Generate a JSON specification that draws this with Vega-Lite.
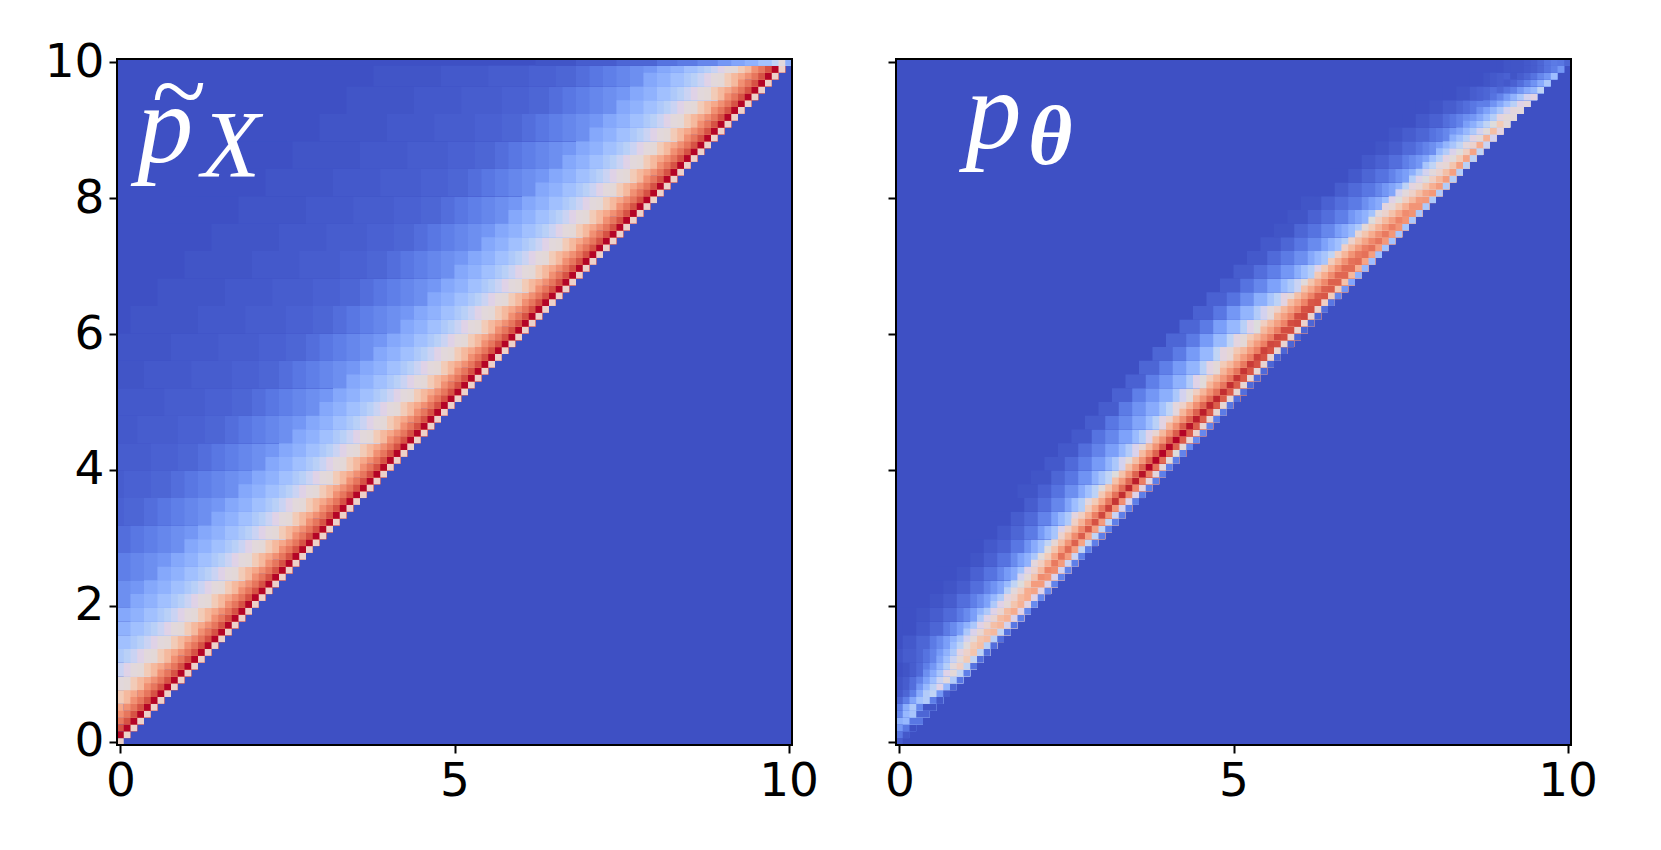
{"$schema":"https://vega.github.io/schema/vega-lite/v6.json","padding":{"left":44,"top":38,"right":0,"bottom":0},"background":"white","bounds":"flush","spacing":104,
"config":{"view":{"stroke":null},"axis":{"grid":false,"domain":false,"tickColor":"#000","tickWidth":2,"tickSize":8,"labelFont":"DejaVu Sans","labelFontSize":47,"labelColor":"#000","labelPadding":5,"labelFlush":false,"labelOverlap":false,"zindex":1,"title":null}},
"datasets":{
"f":[{"a":0,"e":100,"r":0,"t":100}],
"lt":[{"a":3,"r":85,"s":"p"}],"lw":[{"a":9.2,"r":90.5,"s":"~"}],"lx":[{"a":12.5,"r":82.8,"s":"X"}],
"rt":[{"a":10.3,"r":87,"s":"p"}],"rx":[{"a":19.6,"r":84.7,"s":"θ"}],
"lb":[{"r":0,"t":100,"e":100,"a":[0],"v":[1]},
{"r":20,"t":24,"e":6,"a":[0,2],"v":[16,18]},
{"r":24,"t":28,"e":10,"a":[0,2,4,6],"v":[12,14,16,18]},
{"r":28,"t":32,"e":14,"a":[0,2,4,6,8,10],"v":[8,10,12,14,16,18]},
{"r":32,"t":36,"e":18,"a":[0,1,4,6,8,10,12,14],"v":[5,6,8,10,12,14,16,18]},
{"r":36,"t":40,"e":22,"a":[0,1,5,8,10,12,14,16,18],"v":[4,5,6,8,10,12,14,16,18]},
{"r":40,"t":44,"e":26,"a":[0,5,9,12,14,16,18,20,22],"v":[4,5,6,8,10,12,14,16,18]},
{"r":44,"t":48,"e":30,"a":[0,3,9,13,16,18,20,22,24,26],"v":[3,4,5,6,8,10,12,14,16,18]},
{"r":48,"t":52,"e":34,"a":[0,7,13,17,20,22,24,26,28,30],"v":[3,4,5,6,8,10,12,14,16,18]},
{"r":52,"t":56,"e":38,"a":[0,4,11,17,21,24,26,28,30,32,34],"v":[2,3,4,5,6,8,10,12,14,16,18]},
{"r":56,"t":60,"e":42,"a":[0,8,15,21,25,28,30,32,34,36,38],"v":[2,3,4,5,6,8,10,12,14,16,18]},
{"r":60,"t":64,"e":46,"a":[0,2,12,19,25,29,32,34,36,38,40,42],"v":[1,2,3,4,5,6,8,10,12,14,16,18]},
{"r":64,"t":68,"e":50,"a":[0,6,16,23,29,33,36,38,40,42,44,46],"v":[1,2,3,4,5,6,8,10,12,14,16,18]},
{"r":68,"t":72,"e":54,"a":[0,10,20,27,33,37,40,42,44,46,48,50],"v":[1,2,3,4,5,6,8,10,12,14,16,18]},
{"r":72,"t":76,"e":58,"a":[4,14,24,31,37,41,44,46,48,50,52,54],"v":[1,2,3,4,5,6,8,10,12,14,16,18]},
{"r":76,"t":80,"e":62,"a":[8,18,28,35,41,45,48,50,52,54,56,58],"v":[1,2,3,4,5,6,8,10,12,14,16,18]},
{"r":80,"t":84,"e":66,"a":[12,22,32,39,45,49,52,54,56,58,60,62],"v":[1,2,3,4,5,6,8,10,12,14,16,18]},
{"r":84,"t":88,"e":70,"a":[16,26,36,43,49,53,56,58,60,62,64,66],"v":[1,2,3,4,5,6,8,10,12,14,16,18]},
{"r":88,"t":92,"e":74,"a":[20,30,40,47,53,57,60,62,64,66,68,70],"v":[1,2,3,4,5,6,8,10,12,14,16,18]},
{"r":92,"t":96,"e":78,"a":[24,34,44,51,57,61,64,66,68,70,72,74],"v":[1,2,3,4,5,6,8,10,12,14,16,18]},
{"r":96,"t":99,"e":82,"a":[28,38,48,55,61,65,68,70,72,74,76,78],"v":[1,2,3,4,5,6,8,10,12,14,16,18]},
{"r":4,"t":6,"e":1,"a":[0],"v":[71]},
{"r":6,"t":8,"e":3,"a":[0,1,2],"v":[60,66,71]},
{"r":8,"t":10,"e":5,"a":[0,1,2,3,4],"v":[48,52,60,66,71]},
{"r":10,"t":12,"e":7,"a":[0,1,2,3,4,5,6],"v":[41,44,48,52,60,66,71]},
{"r":12,"t":14,"e":9,"a":[0,1,2,3,4,5,6,7,8],"v":[35,38,41,44,48,52,60,66,71]},
{"r":14,"t":16,"e":11,"a":[0,2,3,4,5,6,7,8,9,10],"v":[31,35,38,41,44,48,52,60,66,71]},
{"r":16,"t":18,"e":13,"a":[0,2,4,5,6,7,8,9,10,11,12],"v":[26,31,35,38,41,44,48,52,60,66,71]},
{"r":18,"t":20,"e":15,"a":[0,2,4,6,7,8,9,10,11,12,13,14],"v":[23,26,31,35,38,41,44,48,52,60,66,71]},
{"r":20,"t":22,"e":17,"a":[2,4,6,8,9,10,11,12,13,14,15,16],"v":[23,26,31,35,38,41,44,48,52,60,66,71]},
{"r":22,"t":24,"e":19,"a":[4,6,8,10,11,12,13,14,15,16,17,18],"v":[23,26,31,35,38,41,44,48,52,60,66,71]},
{"r":24,"t":26,"e":21,"a":[6,8,10,12,13,14,15,16,17,18,19,20],"v":[23,26,31,35,38,41,44,48,52,60,66,71]},
{"r":26,"t":28,"e":23,"a":[8,10,12,14,15,16,17,18,19,20,21,22],"v":[23,26,31,35,38,41,44,48,52,60,66,71]},
{"r":28,"t":30,"e":25,"a":[10,12,14,16,17,18,19,20,21,22,23,24],"v":[23,26,31,35,38,41,44,48,52,60,66,71]},
{"r":30,"t":32,"e":27,"a":[12,14,16,18,19,20,21,22,23,24,25,26],"v":[23,26,31,35,38,41,44,48,52,60,66,71]},
{"r":32,"t":34,"e":29,"a":[14,16,18,20,21,22,23,24,25,26,27,28],"v":[23,26,31,35,38,41,44,48,52,60,66,71]},
{"r":34,"t":36,"e":31,"a":[16,18,20,22,23,24,25,26,27,28,29,30],"v":[23,26,31,35,38,41,44,48,52,60,66,71]},
{"r":36,"t":38,"e":33,"a":[18,20,22,24,25,26,27,28,29,30,31,32],"v":[23,26,31,35,38,41,44,48,52,60,66,71]},
{"r":38,"t":40,"e":35,"a":[20,22,24,26,27,28,29,30,31,32,33,34],"v":[23,26,31,35,38,41,44,48,52,60,66,71]},
{"r":40,"t":42,"e":37,"a":[22,24,26,28,29,30,31,32,33,34,35,36],"v":[23,26,31,35,38,41,44,48,52,60,66,71]},
{"r":42,"t":44,"e":39,"a":[24,26,28,30,31,32,33,34,35,36,37,38],"v":[23,26,31,35,38,41,44,48,52,60,66,71]},
{"r":44,"t":46,"e":41,"a":[26,28,30,32,33,34,35,36,37,38,39,40],"v":[23,26,31,35,38,41,44,48,52,60,66,71]},
{"r":46,"t":48,"e":43,"a":[28,30,32,34,35,36,37,38,39,40,41,42],"v":[23,26,31,35,38,41,44,48,52,60,66,71]},
{"r":48,"t":50,"e":45,"a":[30,32,34,36,37,38,39,40,41,42,43,44],"v":[23,26,31,35,38,41,44,48,52,60,66,71]},
{"r":50,"t":52,"e":47,"a":[32,34,36,38,39,40,41,42,43,44,45,46],"v":[23,26,31,35,38,41,44,48,52,60,66,71]},
{"r":52,"t":54,"e":49,"a":[34,36,38,40,41,42,43,44,45,46,47,48],"v":[23,26,31,35,38,41,44,48,52,60,66,71]},
{"r":54,"t":56,"e":51,"a":[36,38,40,42,43,44,45,46,47,48,49,50],"v":[23,26,31,35,38,41,44,48,52,60,66,71]},
{"r":56,"t":58,"e":53,"a":[38,40,42,44,45,46,47,48,49,50,51,52],"v":[23,26,31,35,38,41,44,48,52,60,66,71]},
{"r":58,"t":60,"e":55,"a":[40,42,44,46,47,48,49,50,51,52,53,54],"v":[23,26,31,35,38,41,44,48,52,60,66,71]},
{"r":60,"t":62,"e":57,"a":[42,44,46,48,49,50,51,52,53,54,55,56],"v":[23,26,31,35,38,41,44,48,52,60,66,71]},
{"r":62,"t":64,"e":59,"a":[44,46,48,50,51,52,53,54,55,56,57,58],"v":[23,26,31,35,38,41,44,48,52,60,66,71]},
{"r":64,"t":66,"e":61,"a":[46,48,50,52,53,54,55,56,57,58,59,60],"v":[23,26,31,35,38,41,44,48,52,60,66,71]},
{"r":66,"t":68,"e":63,"a":[48,50,52,54,55,56,57,58,59,60,61,62],"v":[23,26,31,35,38,41,44,48,52,60,66,71]},
{"r":68,"t":70,"e":65,"a":[50,52,54,56,57,58,59,60,61,62,63,64],"v":[23,26,31,35,38,41,44,48,52,60,66,71]},
{"r":70,"t":72,"e":67,"a":[52,54,56,58,59,60,61,62,63,64,65,66],"v":[23,26,31,35,38,41,44,48,52,60,66,71]},
{"r":72,"t":74,"e":69,"a":[54,56,58,60,61,62,63,64,65,66,67,68],"v":[23,26,31,35,38,41,44,48,52,60,66,71]},
{"r":74,"t":76,"e":71,"a":[56,58,60,62,63,64,65,66,67,68,69,70],"v":[23,26,31,35,38,41,44,48,52,60,66,71]},
{"r":76,"t":78,"e":73,"a":[58,60,62,64,65,66,67,68,69,70,71,72],"v":[23,26,31,35,38,41,44,48,52,60,66,71]},
{"r":78,"t":80,"e":75,"a":[60,62,64,66,67,68,69,70,71,72,73,74],"v":[23,26,31,35,38,41,44,48,52,60,66,71]},
{"r":80,"t":82,"e":77,"a":[62,64,66,68,69,70,71,72,73,74,75,76],"v":[23,26,31,35,38,41,44,48,52,60,66,71]},
{"r":82,"t":84,"e":79,"a":[64,66,68,70,71,72,73,74,75,76,77,78],"v":[23,26,31,35,38,41,44,48,52,60,66,71]},
{"r":84,"t":86,"e":81,"a":[66,68,70,72,73,74,75,76,77,78,79,80],"v":[23,26,31,35,38,41,44,48,52,60,66,71]},
{"r":86,"t":88,"e":83,"a":[68,70,72,74,75,76,77,78,79,80,81,82],"v":[23,26,31,35,38,41,44,48,52,60,66,71]},
{"r":88,"t":90,"e":85,"a":[70,72,74,76,77,78,79,80,81,82,83,84],"v":[23,26,31,35,38,41,44,48,52,60,66,71]},
{"r":90,"t":92,"e":87,"a":[72,74,76,78,79,80,81,82,83,84,85,86],"v":[23,26,31,35,38,41,44,48,52,60,66,71]},
{"r":92,"t":94,"e":89,"a":[74,76,78,80,81,82,83,84,85,86,87,88],"v":[23,26,31,35,38,41,44,48,52,60,66,71]},
{"r":94,"t":96,"e":91,"a":[76,78,80,82,83,84,85,86,87,88,89,90],"v":[23,26,31,35,38,41,44,48,52,60,66,71]},
{"r":96,"t":98,"e":93,"a":[78,80,82,84,85,86,87,88,89,90,91,92],"v":[23,26,31,35,38,41,44,48,52,60,66,71]},
{"r":98,"t":99,"e":95,"a":[80,82,84,86,87,88,89,90,91,92,93,94],"v":[23,26,31,35,38,41,44,48,52,60,66,71]}],
"lr":[{"r":0,"e":1,"a":[0],"v":[56]},{"r":1,"e":2,"a":[0,1],"v":[100,56]},{"r":2,"e":3,"a":[0,1,2],"v":[90,100,56]},{"r":3,"e":4,"a":[0,1,2,3],"v":[83,90,100,56]},
{"r":4,"e":5,"a":[0,1,2,3,4],"v":[77,83,90,100,56]},{"r":5,"e":6,"a":[1,2,3,4,5],"v":[77,83,90,100,56]},{"r":6,"e":7,"a":[2,3,4,5,6],"v":[77,83,90,100,56]},{"r":7,"e":8,"a":[3,4,5,6,7],"v":[77,83,90,100,56]},{"r":8,"e":9,"a":[4,5,6,7,8],"v":[77,83,90,100,56]},{"r":9,"e":10,"a":[5,6,7,8,9],"v":[77,83,90,100,56]},
{"r":10,"e":11,"a":[6,7,8,9,10],"v":[77,83,90,100,56]},{"r":11,"e":12,"a":[7,8,9,10,11],"v":[77,83,90,100,56]},{"r":12,"e":13,"a":[8,9,10,11,12],"v":[77,83,90,100,56]},{"r":13,"e":14,"a":[9,10,11,12,13],"v":[77,83,90,100,56]},{"r":14,"e":15,"a":[10,11,12,13,14],"v":[77,83,90,100,56]},{"r":15,"e":16,"a":[11,12,13,14,15],"v":[77,83,90,100,56]},{"r":16,"e":17,"a":[12,13,14,15,16],"v":[77,83,90,100,56]},{"r":17,"e":18,"a":[13,14,15,16,17],"v":[77,83,90,100,56]},{"r":18,"e":19,"a":[14,15,16,17,18],"v":[77,83,90,100,56]},{"r":19,"e":20,"a":[15,16,17,18,19],"v":[77,83,90,100,56]},
{"r":20,"e":21,"a":[16,17,18,19,20],"v":[77,83,90,100,56]},{"r":21,"e":22,"a":[17,18,19,20,21],"v":[77,83,90,100,56]},{"r":22,"e":23,"a":[18,19,20,21,22],"v":[77,83,90,100,56]},{"r":23,"e":24,"a":[19,20,21,22,23],"v":[77,83,90,100,56]},{"r":24,"e":25,"a":[20,21,22,23,24],"v":[77,83,90,100,56]},{"r":25,"e":26,"a":[21,22,23,24,25],"v":[77,83,90,100,56]},{"r":26,"e":27,"a":[22,23,24,25,26],"v":[77,83,90,100,56]},{"r":27,"e":28,"a":[23,24,25,26,27],"v":[77,83,90,100,56]},{"r":28,"e":29,"a":[24,25,26,27,28],"v":[77,83,90,100,56]},{"r":29,"e":30,"a":[25,26,27,28,29],"v":[77,83,90,100,56]},
{"r":30,"e":31,"a":[26,27,28,29,30],"v":[77,83,90,100,56]},{"r":31,"e":32,"a":[27,28,29,30,31],"v":[77,83,90,100,56]},{"r":32,"e":33,"a":[28,29,30,31,32],"v":[77,83,90,100,56]},{"r":33,"e":34,"a":[29,30,31,32,33],"v":[77,83,90,100,56]},{"r":34,"e":35,"a":[30,31,32,33,34],"v":[77,83,90,100,56]},{"r":35,"e":36,"a":[31,32,33,34,35],"v":[77,83,90,100,56]},{"r":36,"e":37,"a":[32,33,34,35,36],"v":[77,83,90,100,56]},{"r":37,"e":38,"a":[33,34,35,36,37],"v":[77,83,90,100,56]},{"r":38,"e":39,"a":[34,35,36,37,38],"v":[77,83,90,100,56]},{"r":39,"e":40,"a":[35,36,37,38,39],"v":[77,83,90,100,56]},
{"r":40,"e":41,"a":[36,37,38,39,40],"v":[77,83,90,100,56]},{"r":41,"e":42,"a":[37,38,39,40,41],"v":[77,83,90,100,56]},{"r":42,"e":43,"a":[38,39,40,41,42],"v":[77,83,90,100,56]},{"r":43,"e":44,"a":[39,40,41,42,43],"v":[77,83,90,100,56]},{"r":44,"e":45,"a":[40,41,42,43,44],"v":[77,83,90,100,56]},{"r":45,"e":46,"a":[41,42,43,44,45],"v":[77,83,90,100,56]},{"r":46,"e":47,"a":[42,43,44,45,46],"v":[77,83,90,100,56]},{"r":47,"e":48,"a":[43,44,45,46,47],"v":[77,83,90,100,56]},{"r":48,"e":49,"a":[44,45,46,47,48],"v":[77,83,90,100,56]},{"r":49,"e":50,"a":[45,46,47,48,49],"v":[77,83,90,100,56]},
{"r":50,"e":51,"a":[46,47,48,49,50],"v":[77,83,90,100,56]},{"r":51,"e":52,"a":[47,48,49,50,51],"v":[77,83,90,100,56]},{"r":52,"e":53,"a":[48,49,50,51,52],"v":[77,83,90,100,56]},{"r":53,"e":54,"a":[49,50,51,52,53],"v":[77,83,90,100,56]},{"r":54,"e":55,"a":[50,51,52,53,54],"v":[77,83,90,100,56]},{"r":55,"e":56,"a":[51,52,53,54,55],"v":[77,83,90,100,56]},{"r":56,"e":57,"a":[52,53,54,55,56],"v":[77,83,90,100,56]},{"r":57,"e":58,"a":[53,54,55,56,57],"v":[77,83,90,100,56]},{"r":58,"e":59,"a":[54,55,56,57,58],"v":[77,83,90,100,56]},{"r":59,"e":60,"a":[55,56,57,58,59],"v":[77,83,90,100,56]},
{"r":60,"e":61,"a":[56,57,58,59,60],"v":[77,83,90,100,56]},{"r":61,"e":62,"a":[57,58,59,60,61],"v":[77,83,90,100,56]},{"r":62,"e":63,"a":[58,59,60,61,62],"v":[77,83,90,100,56]},{"r":63,"e":64,"a":[59,60,61,62,63],"v":[77,83,90,100,56]},{"r":64,"e":65,"a":[60,61,62,63,64],"v":[77,83,90,100,56]},{"r":65,"e":66,"a":[61,62,63,64,65],"v":[77,83,90,100,56]},{"r":66,"e":67,"a":[62,63,64,65,66],"v":[77,83,90,100,56]},{"r":67,"e":68,"a":[63,64,65,66,67],"v":[77,83,90,100,56]},{"r":68,"e":69,"a":[64,65,66,67,68],"v":[77,83,90,100,56]},{"r":69,"e":70,"a":[65,66,67,68,69],"v":[77,83,90,100,56]},
{"r":70,"e":71,"a":[66,67,68,69,70],"v":[77,83,90,100,56]},{"r":71,"e":72,"a":[67,68,69,70,71],"v":[77,83,90,100,56]},{"r":72,"e":73,"a":[68,69,70,71,72],"v":[77,83,90,100,56]},{"r":73,"e":74,"a":[69,70,71,72,73],"v":[77,83,90,100,56]},{"r":74,"e":75,"a":[70,71,72,73,74],"v":[77,83,90,100,56]},{"r":75,"e":76,"a":[71,72,73,74,75],"v":[77,83,90,100,56]},{"r":76,"e":77,"a":[72,73,74,75,76],"v":[77,83,90,100,56]},{"r":77,"e":78,"a":[73,74,75,76,77],"v":[77,83,90,100,56]},{"r":78,"e":79,"a":[74,75,76,77,78],"v":[77,83,90,100,56]},{"r":79,"e":80,"a":[75,76,77,78,79],"v":[77,83,90,100,56]},
{"r":80,"e":81,"a":[76,77,78,79,80],"v":[77,83,90,100,56]},{"r":81,"e":82,"a":[77,78,79,80,81],"v":[77,83,90,100,56]},{"r":82,"e":83,"a":[78,79,80,81,82],"v":[77,83,90,100,56]},{"r":83,"e":84,"a":[79,80,81,82,83],"v":[77,83,90,100,56]},{"r":84,"e":85,"a":[80,81,82,83,84],"v":[77,83,90,100,56]},{"r":85,"e":86,"a":[81,82,83,84,85],"v":[77,83,90,100,56]},{"r":86,"e":87,"a":[82,83,84,85,86],"v":[77,83,90,100,56]},{"r":87,"e":88,"a":[83,84,85,86,87],"v":[77,83,90,100,56]},{"r":88,"e":89,"a":[84,85,86,87,88],"v":[77,83,90,100,56]},{"r":89,"e":90,"a":[85,86,87,88,89],"v":[77,83,90,100,56]},
{"r":90,"e":91,"a":[86,87,88,89,90],"v":[77,83,90,100,56]},{"r":91,"e":92,"a":[87,88,89,90,91],"v":[77,83,90,100,56]},{"r":92,"e":93,"a":[88,89,90,91,92],"v":[77,83,90,100,56]},{"r":93,"e":94,"a":[89,90,91,92,93],"v":[77,83,90,100,56]},{"r":94,"e":95,"a":[90,91,92,93,94],"v":[77,83,90,100,56]},{"r":95,"e":96,"a":[91,92,93,94,95],"v":[77,83,90,100,56]},{"r":96,"e":97,"a":[92,93,94,95,96],"v":[77,83,90,100,56]},{"r":97,"e":98,"a":[93,94,95,96,97],"v":[77,83,90,100,56]},{"r":98,"e":99,"a":[94,95,96,97,98],"v":[77,83,90,100,56]},
{"r":99,"e":100,"a":[62,68,74,80,83,86,89,91,93,95,97,98,99],"v":[2,4,6,9,11,14,18,22,26,32,40,48,25]}],
"rb":[{"r":0,"t":100,"e":100,"a":[0],"v":[1]},
{"r":8,"t":10,"e":4,"a":[0,1,2],"v":[2,4,8]},
{"r":10,"t":12,"e":6,"a":[0,1,2,3,4],"v":[1,2,4,7,12]},
{"r":12,"t":14,"e":8,"a":[0,1,3,4,5,6],"v":[2,4,6,9,13,19]},
{"r":14,"t":16,"e":10,"a":[0,1,3,5,6,7,8],"v":[1,3,6,11,15,20,26]},
{"r":16,"t":18,"e":12,"a":[1,3,5,7,8,9,10],"v":[1,3,6,11,15,20,26]},
{"r":18,"t":20,"e":14,"a":[0,3,5,7,9,10,11,12],"v":[1,2,4,7,11,15,20,27]},
{"r":20,"t":22,"e":16,"a":[2,5,7,9,11,12,13,14],"v":[1,2,4,8,12,16,21,28]},
{"r":22,"t":24,"e":18,"a":[4,7,9,11,13,14,15,16],"v":[1,2,4,8,13,17,22,29]},
{"r":24,"t":26,"e":20,"a":[6,9,11,13,15,16,17,18],"v":[1,2,5,9,14,19,24,32]},
{"r":26,"t":28,"e":22,"a":[8,11,13,15,17,18,19,20],"v":[1,2,5,9,15,21,26,34]},
{"r":28,"t":30,"e":24,"a":[10,13,15,17,19,20,21,22],"v":[1,3,5,10,17,24,31,40]},
{"r":30,"t":32,"e":26,"a":[12,15,17,19,21,22,23,24],"v":[1,3,6,11,19,26,33,43]},
{"r":32,"t":34,"e":28,"a":[14,17,19,21,23,24,25,26],"v":[1,4,7,13,21,28,35,46]},
{"r":34,"t":36,"e":30,"a":[16,19,21,23,25,26,27,28],"v":[1,4,8,14,22,30,37,47]},
{"r":36,"t":38,"e":32,"a":[18,21,23,25,27,28,29,30],"v":[2,5,9,16,24,31,39,49]},
{"r":38,"t":40,"e":34,"a":[20,23,25,27,29,30,31,32],"v":[2,6,10,17,26,33,40,50]},
{"r":40,"t":42,"e":36,"a":[22,25,27,29,31,32,33,34],"v":[3,7,12,19,27,34,42,52]},
{"r":42,"t":44,"e":38,"a":[24,27,29,31,33,34,35,36],"v":[3,8,13,20,28,36,43,53]},
{"r":44,"t":46,"e":40,"a":[26,29,31,33,35,36,37,38],"v":[3,9,14,21,29,37,44,54]},
{"r":46,"t":48,"e":42,"a":[28,31,33,35,37,38,39,40],"v":[4,10,15,22,30,38,45,55]},
{"r":48,"t":50,"e":44,"a":[30,33,35,37,39,40,41,42],"v":[4,11,17,24,32,40,47,56]},
{"r":50,"t":52,"e":46,"a":[32,35,37,39,41,42,43,44],"v":[5,12,18,25,34,42,49,58]},
{"r":52,"t":54,"e":48,"a":[34,37,39,41,43,44,45,46],"v":[5,12,18,26,36,44,51,59]},
{"r":54,"t":56,"e":50,"a":[36,39,41,43,45,46,47,48],"v":[6,12,19,27,38,45,52,60]},
{"r":56,"t":58,"e":52,"a":[38,41,43,45,47,48,49,50],"v":[6,11,19,28,40,46,53,61]},
{"r":58,"t":60,"e":54,"a":[40,43,45,47,49,50,51,52],"v":[6,11,19,29,40,46,52,60]},
{"r":60,"t":62,"e":56,"a":[42,45,47,49,51,52,53,54],"v":[6,11,20,28,38,44,50,58]},
{"r":62,"t":64,"e":58,"a":[44,47,49,51,53,54,55,56],"v":[5,10,18,27,36,42,48,56]},
{"r":64,"t":66,"e":60,"a":[46,49,51,53,55,56,57,58],"v":[5,9,16,25,33,39,45,53]},
{"r":66,"t":68,"e":62,"a":[48,51,53,55,57,58,59,60],"v":[4,9,14,21,29,35,41,49]},
{"r":68,"t":70,"e":64,"a":[50,53,55,57,59,60,61,62],"v":[4,8,12,18,25,31,37,44]},
{"r":70,"t":72,"e":66,"a":[52,55,57,59,61,62,63,64],"v":[3,7,11,16,23,28,33,40]},
{"r":72,"t":74,"e":68,"a":[54,57,59,61,63,64,65,66],"v":[3,6,10,15,21,26,31,37]},
{"r":74,"t":76,"e":70,"a":[56,59,61,63,65,66,67,68],"v":[2,6,9,14,20,24,29,35]},
{"r":76,"t":78,"e":72,"a":[58,61,63,65,67,68,69,70],"v":[2,5,8,12,18,22,26,32]},
{"r":78,"t":80,"e":74,"a":[60,63,65,67,69,70,71,72],"v":[2,5,8,11,16,20,24,30]},
{"r":80,"t":82,"e":76,"a":[62,65,67,69,71,72,73,74],"v":[1,4,7,10,14,18,22,27]},
{"r":82,"t":84,"e":78,"a":[64,67,69,71,73,74,75,76],"v":[1,3,6,9,13,17,20,25]},
{"r":84,"t":86,"e":80,"a":[66,69,71,73,75,76,77,78],"v":[1,3,5,8,12,15,18,22]},
{"r":86,"t":88,"e":82,"a":[68,71,73,75,77,78,79,80],"v":[1,2,4,7,10,13,16,20]},
{"r":88,"t":90,"e":84,"a":[73,75,77,79,80,81,82],"v":[2,4,6,9,11,14,18]},
{"r":90,"t":92,"e":86,"a":[75,77,79,81,82,83,84],"v":[1,3,5,8,10,13,16]},
{"r":92,"t":94,"e":88,"a":[77,79,81,83,84,85,86],"v":[1,2,4,6,8,10,12]},
{"r":94,"t":96,"e":90,"a":[81,83,85,86,87,88],"v":[1,2,4,5,6,8]},
{"r":96,"t":98,"e":92,"a":[85,87,88,89,90],"v":[1,2,3,4,5]},
{"r":98,"t":100,"e":94,"a":[89,90,91,92],"v":[1,2,2,3]}],
"rr":[{"r":0,"e":1,"a":[0],"v":[4]},{"r":1,"e":2,"a":[0,1],"v":[10,3]},{"r":2,"e":3,"a":[0,1,2],"v":[18,10,1]},{"r":3,"e":4,"a":[0,1,2],"v":[25,28,10]},{"r":4,"e":5,"a":[0,1,2,3],"v":[14,28,33,6]},{"r":5,"e":6,"a":[0,1,2,3,4],"v":[12,25,35,14,2]},{"r":6,"e":7,"a":[0,1,2,3,4,5,6],"v":[6,12,22,32,36,12,3]},{"r":7,"e":8,"a":[0,1,2,3,4,5,6,7],"v":[3,6,12,24,36,40,18,4]},
{"r":8,"e":9,"a":[2,3,4,5,6,7,8],"v":[8,18,28,38,44,28,6]},{"r":9,"e":10,"a":[3,4,5,6,7,8,9],"v":[13,21,30,41,48,36,10]},
{"r":10,"e":11,"a":[4,5,6,7,8,9,10],"v":[16,24,33,44,52,40,12]},{"r":11,"e":12,"a":[5,6,7,8,9,10,11],"v":[18,27,37,48,57,40,9]},{"r":12,"e":13,"a":[6,7,8,9,10,11,12],"v":[22,31,41,52,60,40,8]},{"r":13,"e":14,"a":[7,8,9,10,11,12,13],"v":[26,35,45,56,62,39,8]},{"r":14,"e":15,"a":[8,9,10,11,12,13,14],"v":[30,39,49,60,64,38,8]},{"r":15,"e":16,"a":[9,10,11,12,13,14,15],"v":[33,42,52,62,65,38,8]},{"r":16,"e":17,"a":[10,11,12,13,14,15,16],"v":[34,43,53,63,66,40,9]},{"r":17,"e":18,"a":[11,12,13,14,15,16,17],"v":[34,44,54,64,67,42,10]},{"r":18,"e":19,"a":[12,13,14,15,16,17,18],"v":[35,44,54,65,68,43,12]},{"r":19,"e":20,"a":[13,14,15,16,17,18,19],"v":[35,44,54,65,70,44,14]},
{"r":20,"e":21,"a":[14,15,16,17,18,19,20],"v":[35,44,52,62,68,45,15]},{"r":21,"e":22,"a":[15,16,17,18,19,20,21],"v":[36,46,55,66,70,44,14]},{"r":22,"e":23,"a":[16,17,18,19,20,21,22],"v":[38,48,58,70,72,44,14]},{"r":23,"e":24,"a":[17,18,19,20,21,22,23],"v":[40,50,60,74,74,43,13]},{"r":24,"e":25,"a":[18,19,20,21,22,23,24],"v":[42,52,63,78,76,43,13]},{"r":25,"e":26,"a":[19,20,21,22,23,24,25],"v":[44,55,66,80,78,42,13]},{"r":26,"e":27,"a":[20,21,22,23,24,25,26],"v":[47,58,69,82,74,41,12]},{"r":27,"e":28,"a":[21,22,23,24,25,26,27],"v":[49,60,72,84,74,41,12]},{"r":28,"e":29,"a":[22,23,24,25,26,27,28],"v":[51,62,74,85,73,40,12]},{"r":29,"e":30,"a":[23,24,25,26,27,28,29],"v":[53,64,76,87,72,40,12]},
{"r":30,"e":31,"a":[24,25,26,27,28,29,30],"v":[55,66,78,88,72,40,12]},{"r":31,"e":32,"a":[25,26,27,28,29,30,31],"v":[56,67,79,89,73,40,12]},{"r":32,"e":33,"a":[26,27,28,29,30,31,32],"v":[57,68,80,90,74,40,12]},{"r":33,"e":34,"a":[27,28,29,30,31,32,33],"v":[58,69,81,92,75,41,12]},{"r":34,"e":35,"a":[28,29,30,31,32,33,34],"v":[59,70,82,93,76,42,12]},{"r":35,"e":36,"a":[29,30,31,32,33,34,35],"v":[60,71,83,95,77,43,12]},{"r":36,"e":37,"a":[30,31,32,33,34,35,36],"v":[61,72,84,96,78,44,12]},{"r":37,"e":38,"a":[31,32,33,34,35,36,37],"v":[62,73,85,97,80,45,12]},{"r":38,"e":39,"a":[32,33,34,35,36,37,38],"v":[63,74,86,98,81,46,12]},{"r":39,"e":40,"a":[33,34,35,36,37,38,39],"v":[63,75,87,99,82,47,12]},
{"r":40,"e":41,"a":[34,35,36,37,38,39,40],"v":[64,75,87,100,84,48,12]},{"r":41,"e":42,"a":[35,36,37,38,39,40,41],"v":[64,75,87,100,85,49,12]},{"r":42,"e":43,"a":[36,37,38,39,40,41,42],"v":[65,76,87,100,86,50,13]},{"r":43,"e":44,"a":[37,38,39,40,41,42,43],"v":[65,76,88,100,87,52,14]},{"r":44,"e":45,"a":[38,39,40,41,42,43,44],"v":[66,76,88,100,88,54,15]},{"r":45,"e":46,"a":[39,40,41,42,43,44,45],"v":[66,77,88,100,88,55,14]},{"r":46,"e":47,"a":[40,41,42,43,44,45,46],"v":[67,77,88,99,88,54,13]},{"r":47,"e":48,"a":[41,42,43,44,45,46,47],"v":[67,77,87,98,88,54,12]},{"r":48,"e":49,"a":[42,43,44,45,46,47,48],"v":[67,77,87,98,88,53,11]},{"r":49,"e":50,"a":[43,44,45,46,47,48,49],"v":[67,77,86,97,88,53,10]},
{"r":50,"e":51,"a":[44,45,46,47,48,49,50],"v":[67,76,85,97,88,53,8]},{"r":51,"e":52,"a":[45,46,47,48,49,50,51],"v":[67,76,84,96,88,53,8]},{"r":52,"e":53,"a":[46,47,48,49,50,51,52],"v":[67,75,83,96,88,53,7]},{"r":53,"e":54,"a":[47,48,49,50,51,52,53],"v":[67,75,83,95,89,53,7]},{"r":54,"e":55,"a":[48,49,50,51,52,53,54],"v":[67,75,83,95,89,53,7]},{"r":55,"e":56,"a":[49,50,51,52,53,54,55],"v":[66,74,82,94,90,54,6]},{"r":56,"e":57,"a":[50,51,52,53,54,55,56],"v":[66,74,81,93,90,54,6]},{"r":57,"e":58,"a":[51,52,53,54,55,56,57],"v":[66,74,81,93,90,54,6]},{"r":58,"e":59,"a":[52,53,54,55,56,57,58],"v":[66,74,81,92,91,54,6]},{"r":59,"e":60,"a":[53,54,55,56,57,58,59],"v":[66,74,81,92,91,55,6]},
{"r":60,"e":61,"a":[54,55,56,57,58,59,60],"v":[66,73,81,91,91,55,6]},{"r":61,"e":62,"a":[55,56,57,58,59,60,61],"v":[66,73,80,91,92,55,6]},{"r":62,"e":63,"a":[56,57,58,59,60,61,62],"v":[66,73,80,91,92,55,6]},{"r":63,"e":64,"a":[57,58,59,60,61,62,63],"v":[66,73,80,90,91,56,8]},{"r":64,"e":65,"a":[58,59,60,61,62,63,64],"v":[65,72,80,89,90,57,10]},{"r":65,"e":66,"a":[59,60,61,62,63,64,65],"v":[64,72,80,88,89,59,14]},{"r":66,"e":67,"a":[60,61,62,63,64,65,66],"v":[63,71,79,87,88,61,18]},{"r":67,"e":68,"a":[61,62,63,64,65,66,67],"v":[62,71,79,87,87,63,22]},{"r":68,"e":69,"a":[62,63,64,65,66,67,68],"v":[61,70,78,86,86,66,26]},{"r":69,"e":70,"a":[63,64,65,66,67,68,69],"v":[60,69,78,85,85,69,28]},
{"r":70,"e":71,"a":[64,65,66,67,68,69,70],"v":[59,68,77,84,85,72,30]},{"r":71,"e":72,"a":[65,66,67,68,69,70,71],"v":[58,67,76,82,84,73,31]},{"r":72,"e":73,"a":[66,67,68,69,70,71,72],"v":[57,66,74,81,84,74,32]},{"r":73,"e":74,"a":[67,68,69,70,71,72,73],"v":[55,64,72,79,83,75,32]},{"r":74,"e":75,"a":[68,69,70,71,72,73,74],"v":[54,62,70,77,82,75,33]},{"r":75,"e":76,"a":[69,70,71,72,73,74,75],"v":[52,60,68,75,81,76,33]},{"r":76,"e":77,"a":[70,71,72,73,74,75,76],"v":[50,58,66,73,80,76,34]},{"r":77,"e":78,"a":[71,72,73,74,75,76,77],"v":[48,55,63,71,78,76,34]},{"r":78,"e":79,"a":[72,73,74,75,76,77,78],"v":[46,53,61,69,76,76,35]},{"r":79,"e":80,"a":[73,74,75,76,77,78,79],"v":[44,50,58,66,74,75,35]},
{"r":80,"e":81,"a":[74,75,76,77,78,79,80],"v":[42,48,56,64,72,75,36]},{"r":81,"e":82,"a":[75,76,77,78,79,80,81],"v":[39,46,53,61,69,74,36]},{"r":82,"e":83,"a":[76,77,78,79,80,81,82],"v":[37,44,50,58,66,74,37]},{"r":83,"e":84,"a":[77,78,79,80,81,82,83],"v":[35,42,48,55,64,73,37]},{"r":84,"e":85,"a":[78,79,80,81,82,83,84],"v":[33,40,47,53,62,73,38]},{"r":85,"e":86,"a":[79,80,81,82,83,84,85],"v":[31,38,45,51,60,72,39]},{"r":86,"e":87,"a":[80,81,82,83,84,85,86],"v":[29,36,43,50,58,72,40]},{"r":87,"e":88,"a":[81,82,83,84,85,86,87],"v":[27,33,40,47,55,70,41]},{"r":88,"e":89,"a":[82,83,84,85,86,87,88],"v":[25,31,38,45,52,68,42]},{"r":89,"e":90,"a":[83,84,85,86,87,88,89],"v":[22,28,35,42,51,64,45]},
{"r":90,"e":91,"a":[84,85,86,87,88,89,90],"v":[20,25,32,40,50,60,48]},{"r":91,"e":92,"a":[85,86,87,88,89,90,91],"v":[18,23,29,37,46,52,48]},{"r":92,"e":93,"a":[86,87,88,89,90,91,92],"v":[16,21,27,34,42,47,48]},{"r":93,"e":94,"a":[87,88,89,90,91,92,93],"v":[12,17,23,30,38,44,47]},{"r":94,"e":95,"a":[88,89,90,91,92,93,94],"v":[9,13,19,26,34,42,45]},{"r":95,"e":96,"a":[89,90,91,92,93,94,95],"v":[6,9,12,18,24,28,40]},{"r":96,"e":97,"a":[90,91,92,93,94,95,96],"v":[3,5,8,12,17,24,34]},{"r":97,"e":98,"a":[91,92,93,94,95,96,97],"v":[2,4,6,9,14,18,30]},{"r":98,"e":99,"a":[92,93,94,95,96,97,98],"v":[2,3,4,6,9,12,18]},{"r":99,"e":100,"a":[92,93,94,95,96,97,98,99],"v":[2,3,4,6,9,11,10,6]}]
},
"hconcat":[
{"width":675,"height":686,
"encoding":{"x":{"field":"a","type":"quantitative","scale":{"domain":[0,100],"nice":false,"zero":false},"axis":{"values":[0.5,50,99.5],"labelExpr":"round((datum.value-0.5)/9.9)"}},"y":{"field":"r","type":"quantitative","scale":{"domain":[0,100],"nice":false,"zero":false},"axis":{"values":[0.5,20.3,40.1,59.9,79.7,99.5],"labelExpr":"round((datum.value-0.5)/9.9)"}}},
"layer":[
{"data":{"name":"lb"},"transform":[{"flatten":["a","v"]}],"mark":{"type":"rect","strokeWidth":0},"encoding":{"x2":{"field":"e"},"y2":{"field":"t"},"color":{"field":"v","type":"quantitative","legend":null,"scale":{"domain":[0,10,20,30,40,50,60,70,80,90,100],"range":["#3b4cc0","#5977e3","#7b9ff9","#9ebeff","#c0d4f5","#dddcdc","#f2cbb7","#f7ac8e","#ee8468","#d65244","#b40426"]}}}},
{"data":{"name":"lr"},"transform":[{"flatten":["a","v"]}],"mark":{"type":"rect","strokeWidth":0},"encoding":{"x2":{"field":"e"},"y2":{"field":"e"},"color":{"field":"v","type":"quantitative","legend":null,"scale":{"domain":[0,10,20,30,40,50,60,70,80,90,100],"range":["#3b4cc0","#5977e3","#7b9ff9","#9ebeff","#c0d4f5","#dddcdc","#f2cbb7","#f7ac8e","#ee8468","#d65244","#b40426"]}}}},
{"data":{"name":"f"},"mark":{"type":"rect","fillOpacity":0,"stroke":"#000","strokeWidth":2},"encoding":{"x2":{"field":"e"},"y2":{"field":"t"}}},
{"data":{"name":"lt"},"mark":{"type":"text","font":"Liberation Serif","fontStyle":"italic","fontSize":112,"color":"#fff","align":"left","baseline":"alphabetic"},"encoding":{"text":{"field":"s"}}},
{"data":{"name":"lw"},"mark":{"type":"text","font":"Liberation Serif","fontSize":100,"color":"#fff","align":"center","baseline":"alphabetic"},"encoding":{"text":{"field":"s"}}},
{"data":{"name":"lx"},"mark":{"type":"text","font":"Liberation Serif","fontStyle":"italic","fontSize":96,"color":"#fff","align":"left","baseline":"alphabetic"},"encoding":{"text":{"field":"s"}}}
]},
{"width":675,"height":686,
"encoding":{"x":{"field":"a","type":"quantitative","scale":{"domain":[0,100],"nice":false,"zero":false},"axis":{"values":[0.5,50,99.5],"labelExpr":"round((datum.value-0.5)/9.9)"}},"y":{"field":"r","type":"quantitative","scale":{"domain":[0,100],"nice":false,"zero":false},"axis":{"values":[0.5,20.3,40.1,59.9,79.7,99.5],"labels":false}}},
"layer":[
{"data":{"name":"rb"},"transform":[{"flatten":["a","v"]}],"mark":{"type":"rect","strokeWidth":0},"encoding":{"x2":{"field":"e"},"y2":{"field":"t"},"color":{"field":"v","type":"quantitative","legend":null,"scale":{"domain":[0,10,20,30,40,50,60,70,80,90,100],"range":["#3b4cc0","#5977e3","#7b9ff9","#9ebeff","#c0d4f5","#dddcdc","#f2cbb7","#f7ac8e","#ee8468","#d65244","#b40426"]}}}},
{"data":{"name":"rr"},"transform":[{"flatten":["a","v"]}],"mark":{"type":"rect","strokeWidth":0},"encoding":{"x2":{"field":"e"},"y2":{"field":"e"},"color":{"field":"v","type":"quantitative","legend":null,"scale":{"domain":[0,10,20,30,40,50,60,70,80,90,100],"range":["#3b4cc0","#5977e3","#7b9ff9","#9ebeff","#c0d4f5","#dddcdc","#f2cbb7","#f7ac8e","#ee8468","#d65244","#b40426"]}}}},
{"data":{"name":"f"},"mark":{"type":"rect","fillOpacity":0,"stroke":"#000","strokeWidth":2},"encoding":{"x2":{"field":"e"},"y2":{"field":"t"}}},
{"data":{"name":"rt"},"mark":{"type":"text","font":"Liberation Serif","fontStyle":"italic","fontSize":112,"color":"#fff","align":"left","baseline":"alphabetic"},"encoding":{"text":{"field":"s"}}},
{"data":{"name":"rx"},"mark":{"type":"text","font":"Liberation Serif","fontStyle":"italic","fontWeight":"bold","fontSize":85,"color":"#fff","align":"left","baseline":"alphabetic"},"encoding":{"text":{"field":"s"}}}
]}
]}
